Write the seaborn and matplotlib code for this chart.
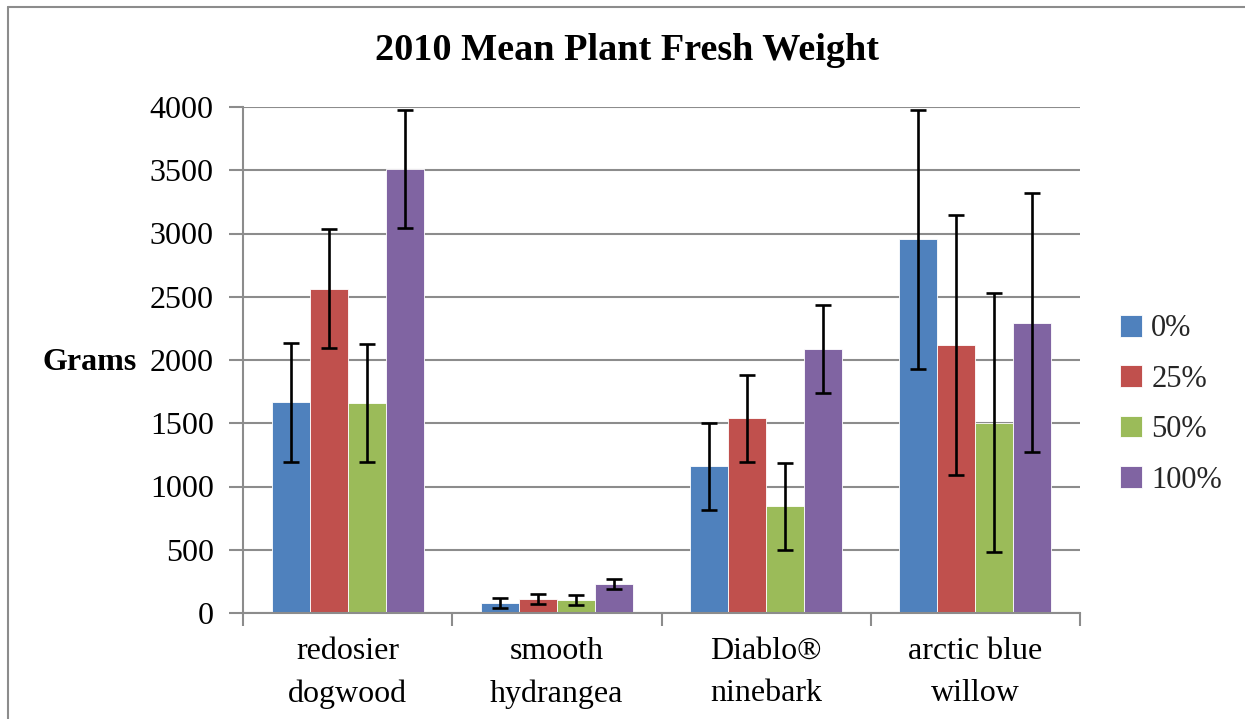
import matplotlib
matplotlib.use("Agg")
import matplotlib.pyplot as plt
import seaborn as sns
import pandas as pd
from matplotlib.lines import Line2D

plants = ["redosier\ndogwood", "smooth\nhydrangea", "Diablo®\nninebark", "arctic blue\nwillow"]
treatments = ["0%", "25%", "50%", "100%"]
weight_0 = [1665, 80, 1160, 2955]
weight_25 = [2565, 110, 1540, 2118]
weight_50 = [1660, 104, 843, 1505]
weight_100 = [3510, 232, 2085, 2295]
err_0 = [468, 40, 345, 1025]
err_25 = [468, 42, 345, 1025]
err_50 = [468, 40, 345, 1025]
err_100 = [470, 40, 347, 1025]
colors = ["#4F81BD", "#C0504D", "#9BBB59", "#8064A2"]

weights = [weight_0, weight_25, weight_50, weight_100]
errs = [err_0, err_25, err_50, err_100]

rows = []
for t, vals in zip(treatments, weights):
    for p, v in zip(plants, vals):
        rows.append({"plant": p, "treatment": t, "weight": v})
df = pd.DataFrame(rows)

sns.set_theme(style="white")
plt.rcParams["font.family"] = ["Liberation Serif", "DejaVu Serif"]

fig = plt.figure(figsize=(12.45, 7.19), dpi=100)
ax = fig.add_axes([243/1245, 1-613/719, (1080-243)/1245, (613-107)/719])

sns.barplot(data=df, x="plant", y="weight", hue="treatment", order=plants,
            hue_order=treatments, palette=colors, width=0.727, gap=0,
            errorbar=None, saturation=1, ax=ax, edgecolor="white", linewidth=0.6)

for cont, e in zip(ax.containers, errs):
    xs = [b.get_x() + b.get_width()/2 for b in cont]
    hs = [b.get_height() for b in cont]
    ax.errorbar(xs, hs, yerr=e, fmt="none", ecolor="black", elinewidth=1.9,
                capsize=5.5, capthick=1.9, zorder=5)

gray = "#8C8C8C"
fs = 23
ax.set_ylim(0, 4000)
ax.set_xlim(-0.5, 3.5)
ax.set_yticks(range(0, 4001, 500))
ax.yaxis.grid(True, color=gray, linewidth=1.5)
ax.set_axisbelow(True)
for s in ["top", "right"]:
    ax.spines[s].set_visible(False)
for s in ["left", "bottom"]:
    ax.spines[s].set_color(gray)
    ax.spines[s].set_linewidth(1.5)

ax.tick_params(axis="y", which="major", length=10, width=1.5, color=gray,
               labelsize=fs, pad=11, labelcolor="black", left=True)
ax.set_xticks([-0.5, 0.5, 1.5, 2.5, 3.5], minor=True)
ax.tick_params(axis="x", which="minor", length=9, width=1.5, color=gray, bottom=True)
ax.tick_params(axis="x", which="major", length=0, labelsize=fs, pad=17, labelcolor="black")
for lbl in ax.get_xticklabels():
    lbl.set_linespacing(1.6)

ax.set_xlabel("")
ax.set_ylabel("Grams", rotation=0, ha="right", va="center", fontsize=fs,
              fontweight="bold", color="black")
ax.yaxis.set_label_coords(-0.1266, 0.496)

leg = ax.legend(loc="center left", bbox_to_anchor=(1.015, 0.412), frameon=False,
                fontsize=22, handlelength=0.72, handleheight=0.72,
                handletextpad=0.3, labelspacing=0.7)

fig.text(0.504, 1-51/719, "2010 Mean Plant Fresh Weight", ha="center", va="center",
         fontsize=27.5, fontweight="bold", color="black")

fig.add_artist(Line2D([8/1245, 8/1245], [-0.1, 1-7/719], color=gray, linewidth=1.5,
                      transform=fig.transFigure))
fig.add_artist(Line2D([8/1245, 1.1], [1-7/719, 1-7/719], color=gray, linewidth=1.5,
                      transform=fig.transFigure))

fig.savefig("out.png", dpi=100)
